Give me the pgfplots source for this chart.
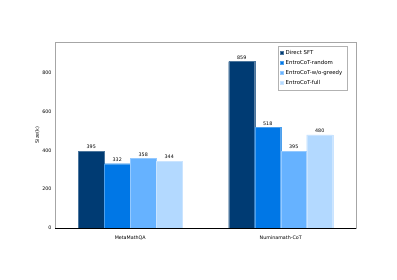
\documentclass[border=0pt]{standalone}
\usepackage{pgfplots}
\pgfplotsset{compat=1.18}
\usepackage{fontspec}
\setmainfont{DejaVu Sans}
\definecolor{c1}{HTML}{003B73}
\definecolor{c2}{HTML}{0077E6}
\definecolor{c3}{HTML}{66B2FF}
\definecolor{c4}{HTML}{B3D9FF}
\begin{document}
\begin{tikzpicture}
\useasboundingbox (-55pt,-52pt) rectangle (342pt,228pt);
\begin{axis}[
  scale only axis, width=301pt, height=186pt,
  ybar=0pt, bar width=26pt,
  xmin=-0.5, xmax=1.5, ymin=0, ymax=960,
  xtick={0,1}, xticklabels={MetaMathQA,Numinamath-CoT},
  ytick={0,200,400,600,800},
  tick style={draw=none},
  axis line style={gray!70, line width=0.9pt},
  font=\fontsize{4.8}{5.5}\selectfont,
  tick label style={font=\fontsize{4.8}{5.5}\selectfont},
  /pgf/number format/assume math mode=true,
  ylabel={Size(k)}, ylabel style={font=\fontsize{4.8}{5.5}\selectfont, yshift=-4pt},
  nodes near coords, every node near coord/.append style={font=\fontsize{4.8}{5.5}\selectfont, text=black, yshift=-1pt},
  legend style={at={(0.97,0.98)}, anchor=north east, font=\fontsize{5.4}{6}\selectfont, draw=gray!60, fill=white, cells={anchor=west}, row sep=0.4pt, inner sep=2.5pt},
  legend image code/.code={\fill[#1] (0pt,-1.3pt) rectangle (3pt,1.7pt);},
]
\addplot[fill=c1, draw=c1!70!white, line width=0.3pt] coordinates {(0,395) (1,859)};
\addplot[fill=c2, draw=c2!70!white, line width=0.3pt] coordinates {(0,332) (1,518)};
\addplot[fill=c3, draw=c3!70!white, line width=0.3pt] coordinates {(0,358) (1,395)};
\addplot[fill=c4, draw=c4!70!white, line width=0.3pt] coordinates {(0,344) (1,480)};
\legend{Direct SFT,EntroCoT-random,EntroCoT-w/o-greedy,EntroCoT-full}
\end{axis}
\draw[black, line width=0.6pt] (0,0) -- (301pt,0);
\end{tikzpicture}
\end{document}
